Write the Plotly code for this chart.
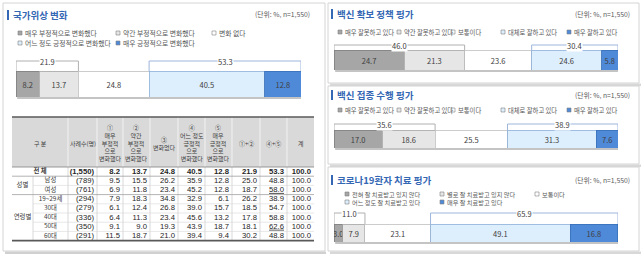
import plotly.graph_objects as go

W, H = 643, 259
FONT = "Noto Sans CJK KR, Noto Sans, sans-serif"
NUMFONT = "Liberation Sans, Arial, sans-serif"

# ---------------- data ----------------
nat_cats = ["매우 부정적으로 변화했다", "약간 부정적으로 변화했다", "변화 없다",
            "어느 정도 긍정적으로 변화했다", "매우 긍정적으로 변화했다"]
nat_vals = [8.2, 13.7, 24.8, 40.5, 12.8]
nat_sums = [21.9, 53.3]

sec_cats = ["매우 잘못하고 있다", "약간 잘못하고 있다", "보통이다", "대체로 잘하고 있다", "매우 잘하고 있다"]
sec_vals = [24.7, 21.3, 23.6, 24.6, 5.8]
sec_sums = [46.0, 30.4]

exe_cats = ["매우 잘못하고 있다", "약간 잘못하고 있다", "보통이다", "대체로 잘하고 있다", "매우 잘하고 있다"]
exe_vals = [17.0, 18.6, 25.5, 31.3, 7.6]
exe_sums = [35.6, 38.9]

trt_cats = ["전혀 잘 치료받고 있지 않다", "별로 잘 치료받고 있지 않다", "보통이다",
            "어느 정도 잘 치료받고 있다", "매우 잘 치료받고 있다"]
trt_vals = [3.0, 7.9, 23.1, 49.1, 16.8]
trt_sums = [11.0, 65.9]

titles = ["국가위상 변화", "백신 확보 정책 평가", "백신 접종 수행 평가", "코로나19환자 치료 평가"]
unit_text = "(단위: %, n=1,550)"

# table
tbl_groups = ["성별", "연령별"]
tbl_rows = ["전 체", "남성", "여성", "19~29세", "30대", "40대", "50대", "60대"]
tbl_n = ["(1,550)", "(789)", "(761)", "(294)", "(279)", "(336)", "(350)", "(291)"]
tbl_c1 = [8.2, 9.5, 6.9, 7.9, 6.1, 6.4, 9.1, 11.5]
tbl_c2 = [13.7, 15.5, 11.8, 18.3, 12.4, 11.3, 9.0, 18.7]
tbl_c3 = [24.8, 26.2, 23.4, 34.8, 26.8, 23.4, 19.3, 21.0]
tbl_c4 = [40.5, 35.9, 45.2, 32.9, 39.0, 45.6, 43.9, 39.4]
tbl_c5 = [12.8, 12.8, 12.8, 6.1, 15.7, 13.2, 18.7, 9.4]
tbl_c12 = [21.9, 25.0, 18.7, 26.2, 18.5, 17.8, 18.1, 30.2]
tbl_c45 = [53.3, 48.8, 58.0, 38.9, 54.7, 58.8, 62.6, 48.8]
tbl_tot = [100.0] * 8
tbl_headers = ["구 분", "사례수(명)",
               "①<br>매우<br>부정적<br>으로<br>변화했다",
               "②<br>약간<br>부정적<br>으로<br>변화했다",
               "③<br>변화없다",
               "④<br>어느 정도<br>긍정적<br>으로<br>변화했다",
               "⑤<br>매우<br>긍정적<br>으로<br>변화했다",
               "①+②", "④+⑤", "계"]
underlined = [(2, 6), (6, 6)]  # (row, value column) of underlined cells

# ---------------- styles / layout ----------------
seg_colors = ["#a6a6a6", "#e6e6e6", "#ffffff", "#ddeefc", "#4f8ad9"]
seg_lines = ["#7f7f7f", "#a6a6a6", "#bfbfbf", "#8fb0d8", "#3a6fb8"]
TITLE_BLUE = "#3467b4"

panels = [
    dict(ax="", cats=nat_cats, vals=nat_vals, sums=nat_sums, title=titles[0],
         bar=(16, 301, 71, 97), btop=61, tx=7, ty=15, ux=312, uy=14, lsize=6.8,
         leg=[(18, 33), (116, 33), (212, 33), (18, 43), (116, 43)]),
    dict(ax="2", cats=sec_cats, vals=sec_vals, sums=sec_sums, title=titles[1],
         bar=(334, 618, 50, 70), btop=45, tx=331, ty=14, ux=632, uy=14, lsize=6.3,
         leg=[(338, 32), (397, 32), (451, 32), (501, 32), (567, 32)]),
    dict(ax="3", cats=exe_cats, vals=exe_vals, sums=exe_sums, title=titles[2],
         bar=(334, 618, 130, 148), btop=124, tx=331, ty=95, ux=632, uy=95, lsize=6.3,
         leg=[(338, 110), (397, 110), (451, 110), (501, 110), (567, 110)]),
    dict(ax="4", cats=trt_cats, vals=trt_vals, sums=trt_sums, title=titles[3],
         bar=(334, 618, 224, 242), btop=213, tx=331, ty=180, ux=632, uy=180, lsize=6.2,
         leg=[(345, 194), (440, 194), (535, 194), (345, 202), (440, 202)]),
]

fig = go.Figure()
shapes = []
annos = []
layout = {}


def cshape(**kw):
    d = dict(xref="x5", yref="y5", layer="below")
    d.update(kw)
    shapes.append(d)


def canno(text, x, y, size=7, color="#404040", xanchor="left", bold=False, **kw):
    if bold:
        text = "<b>" + text + "</b>"
    d = dict(text=text, x=x, y=y, xref="x5", yref="y5", showarrow=False,
             xanchor=xanchor, yanchor="middle", font=dict(size=size, color=color, family=FONT))
    d.update(kw)
    annos.append(d)


# panel boxes (no fill so they never cover the bar subplots)
cshape(type="rect", x0=5, y0=251.5, x1=326, y1=254, fillcolor="#d0d0d0", line=dict(width=0))
cshape(type="rect", x0=3, y0=3, x1=325, y1=251, line=dict(color="#d4d4d4", width=1))
for (y0, y1) in [(3, 83), (86, 164), (167, 251)]:
    cshape(type="rect", x0=330, y0=y1 + 0.5, x1=641, y1=y1 + 3, fillcolor="#d8d8d8", line=dict(width=0))
    cshape(type="rect", x0=328, y0=y0, x1=639, y1=y1, line=dict(color="#d4d4d4", width=1))

for p in panels:
    s = p["ax"]
    x0p, x1p, y0p, y1p = p["bar"]
    layout["xaxis" + s] = dict(domain=[x0p / W, x1p / W], range=[0, 100], visible=False,
                               fixedrange=True, anchor="y" + s)
    layout["yaxis" + s] = dict(domain=[1 - y1p / H, 1 - y0p / H], range=[-0.5, 0.5], visible=False,
                               fixedrange=True, anchor="x" + s)
    for i, (c, v) in enumerate(zip(p["cats"], p["vals"])):
        fig.add_trace(go.Bar(
            x=[v], y=[0], orientation="h", width=1, name=c,
            xaxis="x" + s, yaxis="y" + s,
            marker=dict(color=seg_colors[i], line=dict(color=seg_lines[i], width=0.8)),
            text=[f"{v:.1f}"], textposition="inside", insidetextanchor="middle",
            textfont=dict(size=7.5, color="#404040", family=FONT),
            showlegend=False, hoverinfo="skip"))
    # bar shadow
    shapes.append(dict(type="rect", xref="x" + s, yref="y5", x0=0.4, x1=100.4, y0=y1p, y1=y1p + 2,
                       fillcolor="#c4c4c4", line=dict(width=0), layer="below"))
    # brackets
    v = p["vals"]
    spans = [(0, v[0] + v[1]), (v[0] + v[1] + v[2], 100)]
    bcols = ["#b0b0b0", "#9db5dc"]
    for (bx0, bx1), sm, bc in zip(spans, p["sums"], bcols):
        shapes.append(dict(type="path", xref="x" + s, yref="y5",
                           path=f"M {bx0},{y0p} L {bx0},{p['btop']} L {bx1},{p['btop']} L {bx1},{y0p}",
                           line=dict(color=bc, width=1), layer="above"))
        annos.append(dict(text=f"{sm:.1f}", x=(bx0 + bx1) / 2, y=p["btop"], xref="x" + s, yref="y5",
                          showarrow=False, bgcolor="white", borderpad=0,
                          font=dict(size=7.5, color="#404040", family=FONT)))
    # title
    cshape(type="rect", x0=p["tx"], x1=p["tx"] + 2, y0=p["ty"] - 5, y1=p["ty"] + 5,
           fillcolor=TITLE_BLUE, line=dict(width=0), layer="above")
    canno(p["title"], p["tx"] + 4, p["ty"], size=9.5, color=TITLE_BLUE, bold=True)
    canno(unit_text, p["ux"], p["uy"], size=6.8, color="#595959", xanchor="right")
    # legend
    for i, (lx, ly) in enumerate(p["leg"]):
        cshape(type="rect", x0=lx, x1=lx + 4, y0=ly - 2, y1=ly + 2, fillcolor=seg_colors[i],
               line=dict(color="#7f7f7f", width=0.6), layer="above")
        canno(p["cats"][i], lx + 5, ly, size=p["lsize"], color="#595959")

# ---------------- table ----------------
bounds = [12, 33, 68, 97, 123, 150, 178, 205, 232, 260, 287, 314]
ht, hb = 117, 167
rh = 9.2
row_edges = [hb + rh * i for i in range(len(tbl_rows) + 1)]
tb = row_edges[-1]

cshape(type="rect", x0=bounds[0], x1=bounds[-1], y0=ht, y1=hb, fillcolor="#d9d9d9", line=dict(width=0))
for b in bounds[2:-1]:
    cshape(type="line", x0=b, x1=b, y0=ht, y1=hb, line=dict(color="#f2f2f2", width=1), layer="above")
    cshape(type="line", x0=b, x1=b, y0=hb, y1=tb, line=dict(color="#c8c8c8", width=0.7), layer="above")
cshape(type="line", x0=bounds[1], x1=bounds[1], y0=row_edges[1], y1=tb,
       line=dict(color="#c8c8c8", width=0.7), layer="above")
for i in range(1, len(tbl_rows)):
    if i in (1, 3):
        cshape(type="line", x0=bounds[0], x1=bounds[-1], y0=row_edges[i], y1=row_edges[i],
               line=dict(color="#a0a0a0", width=0.8), layer="above")
    else:
        cshape(type="line", x0=bounds[1], x1=bounds[-1], y0=row_edges[i], y1=row_edges[i],
               line=dict(color="#d6d6d6", width=0.6), layer="above")
cshape(type="line", x0=bounds[0], x1=bounds[-1], y0=ht, y1=ht, line=dict(color="#595959", width=1.6), layer="above")
cshape(type="line", x0=bounds[0], x1=bounds[-1], y0=hb, y1=hb, line=dict(color="#808080", width=0.8), layer="above")
cshape(type="line", x0=bounds[0], x1=bounds[-1], y0=tb, y1=tb, line=dict(color="#595959", width=1.6), layer="above")

# header labels
hcent = [(bounds[0] + bounds[2]) / 2] + [(bounds[k] + bounds[k + 1]) / 2 for k in range(2, len(bounds) - 1)]
for txt, cx in zip(tbl_headers, hcent):
    canno(txt, cx, (ht + hb) / 2 + 1, size=6, color="#404040", xanchor="center")

# row labels
row_cy = [(row_edges[i] + row_edges[i + 1]) / 2 for i in range(len(tbl_rows))]
lab_x = [(bounds[0] + bounds[2]) / 2] + [(bounds[1] + bounds[2]) / 2] * (len(tbl_rows) - 1)
lab_txt = ["<b>" + tbl_rows[0] + "</b>"] + tbl_rows[1:]
grp_y = [(row_edges[1] + row_edges[3]) / 2, (row_edges[3] + row_edges[-1]) / 2]
fig.add_trace(go.Scatter(
    x=lab_x + [(bounds[0] + bounds[1]) / 2] * 2, y=row_cy + grp_y, mode="text",
    text=lab_txt + tbl_groups, textposition="middle center",
    textfont=dict(size=6.4, color="#404040", family=FONT),
    xaxis="x5", yaxis="y5", showlegend=False, hoverinfo="skip"))

# numeric cells
cols = [tbl_c1, tbl_c2, tbl_c3, tbl_c4, tbl_c5, tbl_c12, tbl_c45, tbl_tot]
tx, ty, tt = [], [], []
for r in range(len(tbl_rows)):
    tx.append(bounds[3] - 3)
    ty.append(row_cy[r])
    tt.append(f"<b>{tbl_n[r]}</b>" if r == 0 else tbl_n[r])
    for c, col in enumerate(cols):
        s = f"{col[r]:.1f}"
        if (r, c) in underlined:
            s = f"<u>{s}</u>"
        if r == 0:
            s = f"<b>{s}</b>"
        tx.append(bounds[c + 4] - 3)
        ty.append(row_cy[r])
        tt.append(s)
fig.add_trace(go.Scatter(
    x=tx, y=ty, mode="text", text=tt, textposition="middle left",
    textfont=dict(size=7.7, color="#262626", family=NUMFONT),
    xaxis="x5", yaxis="y5", showlegend=False, hoverinfo="skip"))

layout["xaxis5"] = dict(domain=[0, 1], range=[0, W], visible=False, fixedrange=True, anchor="y5")
layout["yaxis5"] = dict(domain=[0, 1], range=[H, 0], visible=False, fixedrange=True, anchor="x5")

fig.update_layout(
    width=W, height=H, margin=dict(l=0, r=0, t=0, b=0),
    paper_bgcolor="white", plot_bgcolor="rgba(0,0,0,0)",
    barmode="stack", showlegend=False,
    uniformtext=dict(minsize=7.5, mode="show"),
    font=dict(family=FONT),
    shapes=shapes, annotations=annos, **layout)

fig.write_html("out.html")
